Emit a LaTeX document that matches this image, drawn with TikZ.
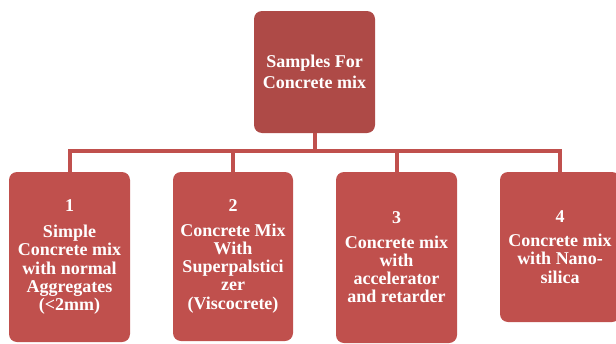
\documentclass[tikz,border=0pt]{standalone}
\usepackage{fontspec}
\setmainfont{Liberation Serif}
\definecolor{topred}{HTML}{AE4A47}
\definecolor{boxred}{HTML}{C0504D}
\begin{document}
\begin{tikzpicture}[x=1pt,y=-1pt,
  box/.style={fill=boxred, rounded corners=8pt, text=white, align=center,
    font=\bfseries\fontsize{18}{18.3}\selectfont, inner sep=0pt},
  topbox/.style={box, fill=topred, font=\bfseries\fontsize{18}{21}\selectfont},
  conn/.style={draw=boxred, line width=4pt}]
\useasboundingbox (0,0) rectangle (616,343);
\node[topbox, minimum width=121pt, minimum height=122pt] (top) at (314.5,72) {Samples For\\Concrete mix};
\node[box, minimum width=121pt, minimum height=170pt] (b1) at (69.5,257) {1\\[8pt]Simple\\Concrete mix\\with normal\\Aggregates\\(<2mm)};
\node[box, minimum width=120pt, minimum height=169pt] (b2) at (233,256.5) {2\\[6pt]Concrete Mix\\With\\Superpalstici\\zer\\(Viscocrete)};
\node[box, minimum width=121pt, minimum height=171pt] (b3) at (396.5,257.5) {3\\[6pt]Concrete mix\\with\\accelerator\\and retarder};
\node[box, minimum width=120pt, minimum height=150pt] (b4) at (560,247) {4\\[6pt]Concrete mix\\with Nano-\\silica};
\coordinate (j) at (314.5,151);
\draw[conn] (top.south) -- (j);
\draw[conn] (j) -| (b1.north);
\draw[conn] (j) -| (b2.north);
\draw[conn] (j) -| (b3.north);
\draw[conn] (j) -| (b4.north);
\end{tikzpicture}
\end{document}
